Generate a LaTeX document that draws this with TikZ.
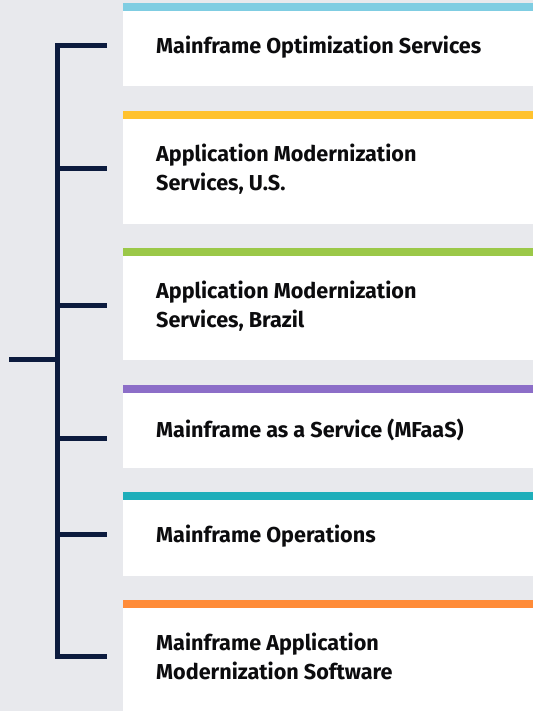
\documentclass[tikz,border=0pt]{standalone}
\usepackage{fontspec}
\setmainfont{Fira Sans}
\definecolor{bgc}{RGB}{232,233,237}
\definecolor{navy}{RGB}{12,27,62}
\definecolor{cA}{RGB}{127,205,226}
\definecolor{cB}{RGB}{255,194,46}
\definecolor{cC}{RGB}{155,200,72}
\definecolor{cD}{RGB}{140,110,200}
\definecolor{cE}{RGB}{30,174,186}
\definecolor{cF}{RGB}{255,139,56}
\definecolor{ink}{RGB}{12,12,14}
\tikzset{
  lbl/.style={anchor=base west, inner sep=0pt, text=ink, font=\bfseries\fontsize{21.6}{29}\selectfont},
  brk/.style={draw=navy, line width=5pt, miter limit=10},
}
\newcommand{\twoline}[2]{\begin{tabular}[t]{@{}l@{}}#1\\#2\end{tabular}}
\begin{document}
\begin{tikzpicture}[x=1pt,y=-1pt]
\fill[bgc] (0,0) rectangle (533,711);
\useasboundingbox (0,0) rectangle (533,711);
% boxes: bar top, white top, white bottom
\foreach \c/\a/\b/\e in {cA/3/11/86, cB/111/119/224, cC/248/256/360, cD/385/393/468, cE/492/500/576, cF/600/608/711}{
  \fill[white] (123,\b) rectangle (533,\e);
  \fill[\c] (123,\a) rectangle (533,\b);
}
% tick coordinates
\coordinate (k1) at (107,46);
\coordinate (k2) at (107,168.5);
\coordinate (k3) at (107,305);
\coordinate (k4) at (107,438.3);
\coordinate (k5) at (107,534.7);
\coordinate (k6) at (107,656.3);
\coordinate (sp) at (57.5,0);
\coordinate (root) at (9,359.3);
% labels
\node[lbl] (t1) at (156,53.5) {Mainframe Optimization Services};
\node[lbl] (t2) at (156,161.6) {\twoline{Application Modernization}{Services, U.S.}};
\node[lbl] (t3) at (156,298.5) {\twoline{Application Modernization}{Services, Brazil}};
\node[lbl] (t4) at (156,437.4) {Mainframe as a Service (MFaaS)};
\node[lbl] (t5) at (156,542.2) {Mainframe Operations};
\node[lbl] (t6) at (156,650) {\twoline{Mainframe Application}{Modernization Software}};
% bracket
\draw[brk] (k1) -- (sp |- k1) -- (sp |- k6) -- (k6);
\draw[brk] (sp |- k2) -- (k2);
\draw[brk] (sp |- k3) -- (k3);
\draw[brk] (sp |- k4) -- (k4);
\draw[brk] (sp |- k5) -- (k5);
\draw[brk] (root) -- (sp |- root);
\end{tikzpicture}
\end{document}
